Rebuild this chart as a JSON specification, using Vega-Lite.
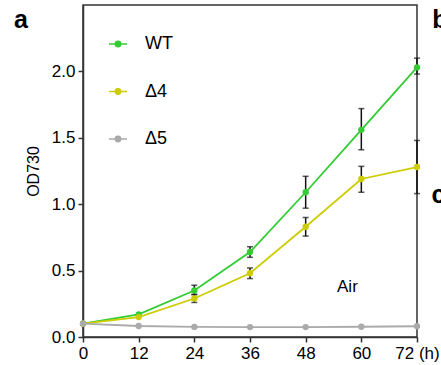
{
  "$schema": "https://vega.github.io/schema/vega-lite/v6.json",
  "autosize": {"type": "none"},
  "width": 334,
  "height": 332,
  "padding": {"left": 83, "top": 5, "right": 24, "bottom": 28},
  "config": {
    "font": "Liberation Sans",
    "view": {"stroke": "#333", "strokeWidth": 1.5},
    "axis": {"grid": false, "domainColor": "#333", "domainWidth": 1.5, "tickColor": "#333", "tickWidth": 1.5, "tickSize": 5, "labelFont": "Liberation Sans", "labelFontSize": 17, "labelColor": "#000", "titleFont": "Liberation Sans", "titleFontWeight": "normal", "titleColor": "#000"}
  },
  "datasets": {
    "series": [
      {"strain": "WT", "t": 0, "od": 0.10},
      {"strain": "WT", "t": 12, "od": 0.17},
      {"strain": "WT", "t": 24, "od": 0.35},
      {"strain": "WT", "t": 36, "od": 0.64},
      {"strain": "WT", "t": 48, "od": 1.09},
      {"strain": "WT", "t": 60, "od": 1.56},
      {"strain": "WT", "t": 72, "od": 2.03},
      {"strain": "Δ4", "t": 0, "od": 0.10},
      {"strain": "Δ4", "t": 12, "od": 0.15},
      {"strain": "Δ4", "t": 24, "od": 0.29},
      {"strain": "Δ4", "t": 36, "od": 0.48},
      {"strain": "Δ4", "t": 48, "od": 0.83},
      {"strain": "Δ4", "t": 60, "od": 1.19},
      {"strain": "Δ4", "t": 72, "od": 1.28},
      {"strain": "Δ5", "t": 0, "od": 0.10},
      {"strain": "Δ5", "t": 12, "od": 0.083},
      {"strain": "Δ5", "t": 24, "od": 0.076},
      {"strain": "Δ5", "t": 36, "od": 0.075},
      {"strain": "Δ5", "t": 48, "od": 0.075},
      {"strain": "Δ5", "t": 60, "od": 0.077},
      {"strain": "Δ5", "t": 72, "od": 0.081}
    ],
    "errors": [
      {"strain": "WT", "t": 24, "lo": 0.32, "hi": 0.39},
      {"strain": "WT", "t": 36, "lo": 0.60, "hi": 0.68},
      {"strain": "WT", "t": 48, "lo": 0.97, "hi": 1.21},
      {"strain": "WT", "t": 60, "lo": 1.41, "hi": 1.72},
      {"strain": "WT", "t": 72, "lo": 1.98, "hi": 2.10},
      {"strain": "Δ4", "t": 24, "lo": 0.26, "hi": 0.32},
      {"strain": "Δ4", "t": 36, "lo": 0.44, "hi": 0.52},
      {"strain": "Δ4", "t": 48, "lo": 0.76, "hi": 0.90},
      {"strain": "Δ4", "t": 60, "lo": 1.09, "hi": 1.285},
      {"strain": "Δ4", "t": 72, "lo": 1.08, "hi": 1.48}
    ],
    "notes": [
      {"t": 57, "od": 0.376, "label": "Air"}
    ],
    "panels": [
      {"t": -14.9, "od": 2.327, "label": "a"},
      {"t": 75.3, "od": 2.327, "label": "b"},
      {"t": 75.1, "od": 1.01, "label": "c"}
    ]
  },
  "layer": [
    {
      "data": {"name": "errors"},
      "mark": {"type": "rule", "color": "#111", "strokeWidth": 1.5},
      "encoding": {
        "x": {"field": "t", "type": "quantitative", "scale": {"domain": [0, 72], "nice": false}},
        "y": {"field": "lo", "type": "quantitative", "scale": {"domain": [0, 2.5], "nice": false}},
        "y2": {"field": "hi"}
      }
    },
    {
      "data": {"name": "errors"},
      "mark": {"type": "tick", "color": "#111", "orient": "horizontal", "size": 6, "thickness": 1.5},
      "encoding": {
        "x": {"field": "t", "type": "quantitative"},
        "y": {"field": "lo", "type": "quantitative"}
      }
    },
    {
      "data": {"name": "errors"},
      "mark": {"type": "tick", "color": "#111", "orient": "horizontal", "size": 6, "thickness": 1.5},
      "encoding": {
        "x": {"field": "t", "type": "quantitative"},
        "y": {"field": "hi", "type": "quantitative"}
      }
    },
    {
      "data": {"name": "series"},
      "mark": {"type": "line", "strokeWidth": 1.8, "point": {"filled": true, "size": 40}},
      "encoding": {
        "x": {"field": "t", "type": "quantitative", "title": null,
              "axis": {"values": [0, 12, 24, 36, 48, 60, 72], "labelExpr": "datum.value == 72 ? '72 (h)' : datum.label", "labelPadding": 3, "labelFlush": false, "labelOverlap": false, "labelBound": false}},
        "y": {"field": "od", "type": "quantitative", "title": "OD730",
              "axis": {"values": [0, 0.5, 1, 1.5, 2], "format": ".1f", "titleFontSize": 16, "titlePadding": 10, "labelPadding": 3}},
        "color": {
          "field": "strain", "type": "nominal",
          "scale": {"domain": ["WT", "Δ4", "Δ5"], "range": ["#33cc33", "#cccc00", "#aaaaaa"]},
          "legend": {
            "title": null, "orient": "none", "legendX": 25, "legendY": 29, "padding": 0,
            "symbolType": "M-1,0L1,0M-0.3,0a0.3,0.3 0 1,0 0.6,0a0.3,0.3 0 1,0 -0.6,0",
            "symbolSize": 324, "symbolStrokeWidth": 1.5,
            "labelFontSize": 18, "labelFont": "Liberation Sans", "labelColor": "#000", "labelOffset": 17, "rowPadding": 28.5,
            "encode": {"symbols": {"update": {"fill": {"scale": "color", "field": "value"}, "stroke": {"scale": "color", "field": "value"}, "opacity": {"value": 1}}}}
          }
        },
        "order": {"field": "t"}
      }
    },
    {
      "data": {"name": "notes"},
      "mark": {"type": "text", "fontSize": 17, "font": "Liberation Sans", "color": "#000"},
      "encoding": {
        "x": {"field": "t", "type": "quantitative"},
        "y": {"field": "od", "type": "quantitative"},
        "text": {"field": "label"}
      }
    },
    {
      "data": {"name": "panels"},
      "mark": {"type": "text", "fontSize": 25, "fontWeight": "bold", "font": "Liberation Sans", "color": "#000", "align": "left", "baseline": "alphabetic", "clip": false},
      "encoding": {
        "x": {"field": "t", "type": "quantitative"},
        "y": {"field": "od", "type": "quantitative"},
        "text": {"field": "label"}
      }
    }
  ]
}
